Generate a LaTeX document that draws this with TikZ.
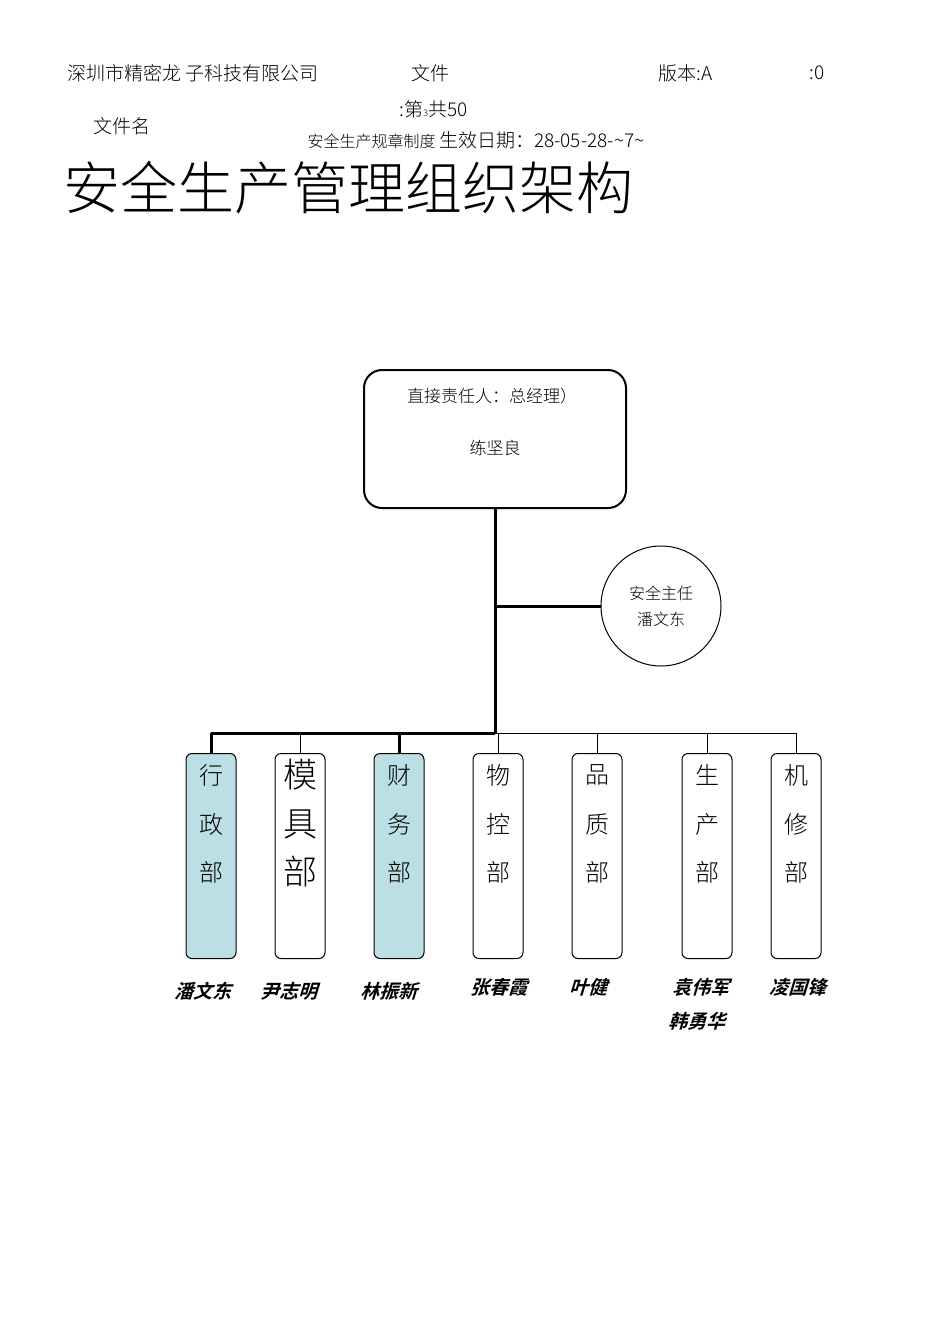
\documentclass[tikz,border=0pt]{standalone}
\usepackage{fontspec}
\setmainfont{Liberation Serif}
\newfontfamily\cjk{Noto Sans CJK SC}[Scale=1]
\newfontfamily\cjkl{Noto Sans CJK SC Light}
\newfontfamily\cjkb{Noto Sans CJK SC Bold}[FakeSlant=0.3]
\definecolor{lb}{RGB}{187,223,228}
\begin{document}
\begin{tikzpicture}[x=1pt,y=-1pt,
  dept/.style={draw,rounded corners=6pt,minimum width=50pt,minimum height=205pt,line width=1pt,anchor=north},
  nm/.style={font=\cjkb\fontsize{19}{21}\selectfont},
  hd/.style={font=\cjkl\fontsize{19}{19}\selectfont,anchor=west},
  thick1/.style={line width=3pt},
  thin1/.style={line width=1pt}]
\useasboundingbox (0,0) rectangle (950,1344);
\node[hd] (h1) at (64,73) {深圳市精密龙 子科技有限公司};
\node[hd] (h2) at (408,73) {文件};
\node[hd] (h3) at (655,73) {版本:A};
\node[hd] (h4) at (806,73) {:0};
\node[hd] (h5) at (396,109) {:第{\fontsize{9}{9}\selectfont 3}共50};
\node[hd] (h6) at (90,126) {文件名};
\node[hd,font=\cjkl\fontsize{16}{17}\selectfont] (h7) at (304,140) {安全生产规章制度 {\fontsize{19}{19}\selectfont 生效日期：28-05-28-\textasciitilde 7\textasciitilde}};
\node[anchor=west,font=\cjkl\fontsize{57}{60}\selectfont] (title) at (60,188) {安全生产管理组织架构};
\node[draw,line width=2pt,rounded corners=18pt,minimum width=262pt,minimum height=138pt] (top) at (495,439) {};
\node[font=\cjkl\fontsize{17}{19}\selectfont] (t1) at (492,396) {直接责任人：总经理）};
\node[font=\cjkl\fontsize{17}{19}\selectfont] (t2) at (495,448) {练坚良};
\node[draw,circle,line width=1pt,minimum size=120pt,align=center,font=\cjkl\fontsize{16}{26}\selectfont] (c) at (661,606) {安全主任\\潘文东};
\coordinate (j) at (495,733);
\coordinate (b) at (495,606);
\draw[thick1] (top.south) -- (j);
\draw[thick1] (b) -- (c.west);
\foreach \i/\x/\f/\a/\bb/\cc/\s in {1/211/lb/行/政/部/24,2/300/white/模/具/部/34,3/399/lb/财/务/部/24,4/498/white/物/控/部/24,5/597/white/品/质/部/24,6/707/white/生/产/部/24,7/796/white/机/修/部/24}{
  \node[dept,fill=\f] (d\i) at (\x,753) {};
  \node[font=\cjkl\fontsize{\s}{\s}\selectfont] (d\i a) at (\x,775) {\a};
  \node[font=\cjkl\fontsize{\s}{\s}\selectfont] (d\i b) at (\x,824) {\bb};
  \node[font=\cjkl\fontsize{\s}{\s}\selectfont] (d\i c) at (\x,872) {\cc};
}
\coordinate (l1) at (d1.north |- j);
\coordinate (l7) at (d7.north |- j);
\draw[thick1] (l1) -- (j);
\draw[thin1] (j) -- (l7);
\draw[thick1] (l1) -- (d1.north);
\draw[thick1] (d3.north |- j) -- (d3.north);
\foreach \i in {2,4,5,6,7}{\draw[thin1] (d\i.north |- j) -- (d\i.north);}
\node[nm] (n1) at (203,991) {潘文东};
\node[nm] (n2) at (289,991) {尹志明};
\node[nm] (n3) at (389,991) {林振新};
\node[nm] (n4) at (499,987) {张春霞};
\node[nm] (n5) at (588,987) {叶健};
\node[nm] (n6) at (701,987) {袁伟军};
\node[nm] (n6b) at (697,1021) {韩勇华};
\node[nm] (n7) at (798,987) {凌国锋};
\end{tikzpicture}
\end{document}
